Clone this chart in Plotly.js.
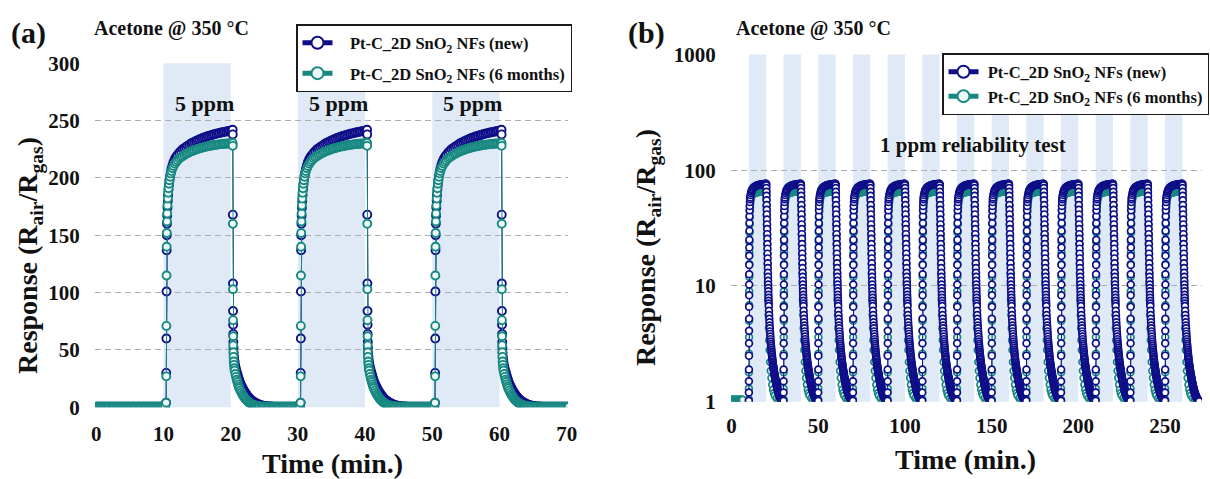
<!DOCTYPE html>
<html>
<head>
<meta charset="utf-8">
<script src="https://cdn.plot.ly/plotly-3.0.1.min.js"></script>
<style>
  html, body { margin: 0; padding: 0; background: #ffffff; }
  #chart { width: 1210px; height: 479px; }
</style>
</head>
<body>
<div id="chart"></div>
<script>
// ---------------- Panel (a): 5 ppm acetone, 3 cycles ----------------
const leftGasOn  = [10, 30, 50];
const leftGasOff = [20, 40, 60];
const leftXTicks = [0, 10, 20, 30, 40, 50, 60, 70];
const leftYTicks = [0, 50, 100, 150, 200, 250, 300];

// baseline before first exposure (min, response)
const leftBaseT    = [0,0.25,0.5,0.75,1,1.25,1.5,1.75,2,2.25,2.5,2.75,3,3.25,3.5,3.75,4,4.25,4.5,4.75,5,5.25,5.5,5.75,6,6.25,6.5,6.75,7,7.25,7.5,7.75,8,8.25,8.5,8.75,9,9.25,9.5,9.75,10,10.25];
const leftBaseNew  = [0.5,0.5,0.5,0.5,0.5,0.5,0.5,0.5,0.5,0.5,0.5,0.5,0.5,0.5,0.5,0.5,0.5,0.5,0.5,0.5,0.5,0.5,0.5,0.5,0.5,0.5,0.5,0.5,0.5,0.5,0.5,0.5,0.5,0.5,0.5,0.5,0.5,0.5,0.5,0.5,0.5,0.5];
const leftBaseAged = [0.5,0.5,0.5,0.5,0.5,0.5,0.5,0.5,0.5,0.5,0.5,0.5,0.5,0.5,0.5,0.5,0.5,0.5,0.5,0.5,0.5,0.5,0.5,0.5,0.5,0.5,0.5,0.5,0.5,0.5,0.5,0.5,0.5,0.5,0.5,0.5,0.5,0.5,0.5,0.5,0.5,0.5];

// response after gas-on (time measured from gas-on)
const leftRiseT = [0.40,0.42,0.44,0.46,0.48,0.50,0.53,0.56,0.60,0.65,0.70,0.76,0.83,0.90,1.0,1.1,1.2,1.35,1.5,1.7,1.9,2.1,2.35,2.6,2.85,3.1,3.35,3.6,3.85,4.1,4.35,4.6,4.85,5.1,5.35,5.6,5.85,6.1,6.35,6.6,6.85,7.1,7.35,7.6,7.85,8.1,8.35,8.6,8.85,9.1,9.35,9.6,9.85,10.1,10.3];
const leftRiseNew = [4,30,60,101,137,150,160,167,174,180,185,190,194,198,202,205,208,211,214,216.5,218.5,220,222,223.5,225,226,227,228,229,230,230.8,231.5,232.2,233,233.6,234.2,234.8,235.4,235.9,236.4,236.9,237.3,237.7,238.1,238.5,238.9,239.3,239.6,239.9,240.2,240.5,240.8,241.1,241.4,242];
const leftRiseAged = [4,27,71,115,140,152,162,169,176,182,187,191,195,198,201,204,206,208.5,210.5,212.5,214,215.5,217,218,219,220,221,221.5,222.5,223,223.7,224.2,224.8,225.3,225.8,226.2,226.6,227,227.3,227.6,227.9,228.2,228.5,228.7,228.9,229.1,229.3,229.5,229.7,229.8,229.9,230,230.1,230.2,230.5];

// recovery after gas-off (time measured from gas-off)
const leftDecayT = [0.315,0.33,0.345,0.36,0.375,0.39,0.41,0.43,0.46,0.5,0.55,0.6,0.7,0.8,0.9,1.0,1.1,1.2,1.3,1.45,1.6,1.75,1.9,2.05,2.2,2.35,2.5,2.65,2.8,2.95,3.1,3.3,3.5,3.7,3.9,4.1,4.3,4.55,4.8,5.05,5.3,5.55,5.8,6.05,6.3,6.55,6.8,7.05,7.3,7.55,7.8,8.05,8.3,8.55,8.8,9.05,9.3,9.55,9.8,10.05,10.3];
const leftDecayNew = [238,168,108,84,72,64,57,52,47.5,44,41,39,36,33.5,31,29,27,25,23.3,21,19,17.2,15.5,14,12.6,11.3,10.1,9,8,7.1,6.3,5.4,4.6,3.9,3.3,2.8,2.3,1.9,1.5,1.2,1.0,0.85,0.75,0.65,0.6,0.55,0.5,0.5,0.5,0.5,0.5,0.5,0.5,0.5,0.5,0.5,0.5,0.5,0.5,0.5,0.5];
const leftDecayAged = [228,160,103,76,62,54,48,44,40,37,34,32,29,26.5,24,22,20,18.2,16.6,14.6,12.8,11.2,9.8,8.5,7.3,6.3,5.4,4.6,3.9,3.3,2.8,2.3,1.9,1.55,1.25,1.0,0.85,0.7,0.6,0.55,0.5,0.5,0.5,0.5,0.5,0.5,0.5,0.5,0.5,0.5,0.5,0.5,0.5,0.5,0.5,0.5,0.5,0.5,0.5,0.5,0.5];

// ---------------- Panel (b): 1 ppm reliability, 13 cycles ----------------
const rightGasOn  = [10,30,50,70,90,110,130,150,170,190,210,230,250];
const rightGasOff = [20,40,60,80,100,120,140,160,180,200,220,240,260];
const rightXTicks = [0, 50, 100, 150, 200, 250];
const rightYTicks = [1, 10, 100, 1000];

const rightBaseT    = [0,0.5,1,1.5,2,2.5,3,3.5,4,4.5,5,5.5,6,6.5];
const rightBaseAged = [1.04,1.04,1.04,1.04,1.04,1.04,1.04,1.04,1.04,1.04,1.04,1.04,1.04,1.04];

const rightRiseTNew = [0,0.02,0.04,0.06,0.08,0.10,0.12,0.14,0.16,0.18,0.20,0.22,0.24,0.26,0.28,0.30,0.33,0.36,0.40,0.45,0.50,0.6,0.7,0.8,1.0,1.25,1.5,1.75,2.0,2.5,3.0,3.5,4.0,4.5,5.0,5.5,6.0,6.5,7.0,7.5,8.0,8.5,9.0,9.5,9.9];
const rightRiseNew  = [1.02,1.2,1.5,1.9,2.5,3.2,4.1,5.2,6.6,8.3,10.3,12.6,15.2,18.2,21.5,25,30,35,40,45,49,53,56,58,61,63.5,65.5,67,68.5,70.3,71.5,72.3,73,73.6,74,74.4,74.8,75.1,75.3,75.5,75.7,75.9,76,76.2,76.3];
const rightRiseTAged = [0,0.03,0.06,0.09,0.12,0.15,0.18,0.21,0.24,0.27,0.30,0.34,0.38,0.43,0.5,0.6,0.7,0.85,1.0,1.3,1.6,2.0,2.5,3.0,3.5,4.0,4.5,5.0,5.5,6.0,6.5,7.0,7.5,8.0,8.5,9.0,9.5,9.9];
const rightRiseAged  = [1.05,1.3,1.8,2.6,3.6,5,6.8,9,12,15.5,19.5,24,29,34,39,44,48,52,55,58,60,61.5,62.5,63.2,63.6,64,64.3,64.6,64.8,65,65.2,65.4,65.6,65.7,65.8,65.9,66,66];

const rightDecayTNew = [0,0.05,0.1,0.15,0.2,0.25,0.3,0.35,0.4,0.45,0.5,0.55,0.6,0.65,0.7,0.75,0.8,0.85,0.9,0.95,1.0,1.05,1.1,1.15,1.2,1.25,1.3,1.35,1.4,1.45,1.5,
  1.6,1.7,1.8,1.9,2.0,2.1,2.2,2.3,2.4,2.5,2.6,2.7,2.8,2.9,3.0,
  3.1,3.2,3.3,3.4,3.5,3.6,3.7,3.8,3.9,4.0,
  4.1,4.2,4.3,4.4,4.5,4.6,4.7,4.8,4.9,5.0,
  5.1,5.2,5.3,5.4,5.5,5.6,5.7,5.8,5.9,6.0,
  6.1,6.2,6.3,6.4,6.5,6.6,6.7,6.8,6.9,7.0,
  7.1,7.2,7.3,7.4,7.5,7.6,7.7,7.8,7.9,8.0,
  8.1,8.2,8.3,8.4,8.5,8.6,8.7,8.8,8.9,9.0,
  9.1,9.2,9.3,9.4,9.5,9.6,9.7];
const rightDecayNew = [76,74,70,65,60,55,50,45.5,41.5,37.5,34,31,28,25.5,23,21,19,17.3,15.7,14.3,13,12,11.1,10.3,9.6,9,8.4,7.9,7.45,7.05,6.7,
  6.1,5.6,5.2,4.85,4.55,4.3,4.05,3.85,3.65,3.47,3.31,3.17,3.04,2.92,2.81,
  2.71,2.62,2.53,2.45,2.37,2.30,2.23,2.17,2.11,2.06,
  2.01,1.96,1.92,1.88,1.84,1.80,1.76,1.73,1.69,1.66,
  1.63,1.60,1.57,1.54,1.51,1.49,1.46,1.44,1.41,1.39,
  1.37,1.35,1.33,1.31,1.29,1.27,1.26,1.24,1.22,1.21,
  1.20,1.18,1.17,1.16,1.15,1.14,1.13,1.12,1.11,1.10,
  1.09,1.08,1.075,1.07,1.06,1.055,1.05,1.045,1.04,1.035,
  1.03,1.025,1.02,1.018,1.015,1.012,1.01];
const rightDecayTAged = [0,0.1,0.2,0.3,0.4,0.5,0.6,0.7,0.8,0.9,1.0,1.2,1.4,1.6,1.8,2.0,2.3,2.6,3.0,3.5,4.0,4.5,5.0,6.0,7.0,8.0,9.0,9.75];
const rightDecayAged  = [64,57,49,41,34,28,23,19,15.5,12.8,10.6,7.6,5.6,4.3,3.4,2.8,2.2,1.85,1.6,1.4,1.27,1.19,1.13,1.07,1.04,1.02,1.01,1.0];

// ---------------- helpers ----------------
function buildSeries(onTimes, offTimes, baseT, baseY, riseT, riseY, decT, decY) {
  const x = [], y = [];
  baseT.forEach((t, i) => { x.push(t); y.push(baseY[i]); });
  onTimes.forEach((on, k) => {
    riseT.forEach((r, i) => { x.push(on + r); y.push(riseY[i]); });
    decT.forEach((d, i) => { x.push(offTimes[k] + d); y.push(decY[i]); });
  });
  return { x, y };
}

const NAVY = '#0e0e88';
const TEAL = '#178880';
const SERIF = 'Liberation Serif, Times New Roman, serif';
const W = 1210, H = 479;
const px = v => v / W;
const py = v => 1 - v / H;

const lNew  = buildSeries(leftGasOn, leftGasOff, leftBaseT, leftBaseNew, leftRiseT, leftRiseNew, leftDecayT, leftDecayNew);
const lAged = buildSeries(leftGasOn, leftGasOff, leftBaseT, leftBaseAged, leftRiseT, leftRiseAged, leftDecayT, leftDecayAged);
const rNew  = buildSeries(rightGasOn, rightGasOff, [], [], rightRiseTNew, rightRiseNew, rightDecayTNew, rightDecayNew);
const rAged = buildSeries(rightGasOn, rightGasOff, rightBaseT, rightBaseAged, rightRiseTAged, rightRiseAged, rightDecayTAged, rightDecayAged);

const NB = '\u00a0';
const labelNew  = 'Pt-C_2D SnO<sub>2</sub> NFs (new)';
const labelAged = 'Pt-C_2D SnO<sub>2</sub> NFs (6 months)';

function trace(d, name, color, fill, xa, ya, leg, rank, size, lw, grp) {
  return {
    type: 'scatter', mode: 'lines+markers', x: d.x, y: d.y, name: name,
    xaxis: xa, yaxis: ya, legend: leg, legendrank: rank, legendgroup: grp,
    line: { color: color, width: 1 },
    marker: { symbol: 'circle', size: size, color: fill, line: { color: color, width: lw } },
    hoverinfo: 'skip'
  };
}

const data = [
  trace(lNew,  NB+NB+NB+labelNew,  NAVY, '#ffffff', 'x',  'y',  'legend',  1, 8, 1.9, 'a1'),
  trace(lAged, NB+NB+NB+labelAged, TEAL, '#eefafa', 'x',  'y',  'legend',  2, 8, 1.9, 'a2'),
  trace(rAged, NB+labelAged, TEAL, '#eefafa', 'x2', 'y2', 'legend2', 2, 6.8, 1.7, 'b2'),
  trace(rNew,  NB+labelNew,  NAVY, '#ffffff', 'x2', 'y2', 'legend2', 1, 6.8, 1.7, 'b1')
];

const BAND = 'rgb(223,234,246)';
const shapes = [];
leftGasOn.forEach((on, k) => shapes.push({
  type: 'rect', xref: 'x', yref: 'y domain', x0: on, x1: leftGasOff[k], y0: 0, y1: 1,
  fillcolor: BAND, line: { width: 0 }, layer: 'below'
}));
rightGasOn.forEach((on, k) => shapes.push({
  type: 'rect', xref: 'x2', yref: 'y2 domain', x0: on, x1: rightGasOff[k], y0: 0, y1: 1,
  fillcolor: BAND, line: { width: 0 }, layer: 'below'
}));

const tickFont = { family: SERIF, size: 21, color: '#111111', weight: 'bold' };
const gridCommon = { showgrid: true, gridcolor: '#aeaeae', gridwidth: 1, griddash: '6px,4px' };

const ann = [];
function txt(text, x, y, size, opts) {
  ann.push(Object.assign({
    text: text, xref: 'paper', yref: 'paper', x: px(x), y: py(y),
    xanchor: 'left', yanchor: 'middle', showarrow: false,
    font: { family: SERIF, size: size, color: '#111111', weight: 'bold' }
  }, opts || {}));
}
txt('(a)', 9, 33, 30);
txt('Acetone @ 350 °C', 92, 29, 20);
txt('(b)', 626, 33, 30);
txt('Acetone @ 350 °C', 734, 29, 20);
txt('1 ppm reliability test', 973, 145, 21, { xanchor: 'center' });
txt('Time (min.)', 332, 463, 28, { xanchor: 'center' });
txt('Time (min.)', 965, 459, 28, { xanchor: 'center' });
txt('Response (R<sub>air</sub>/R<sub>gas</sub>)', 30, 256, 28, { xanchor: 'center', textangle: -90 });
txt('Response (R<sub>air</sub>/R<sub>gas</sub>)', 648, 248, 28, { xanchor: 'center', textangle: -90 });
leftGasOn.forEach((on, k) => ann.push({
  text: '5 ppm', xref: 'x', yref: 'y', x: (on + leftGasOff[k]) / 2, y: 265,
  xshift: 7, xanchor: 'center', yanchor: 'middle', showarrow: false,
  font: { family: SERIF, size: 22, color: '#111111', weight: 'bold' }
}));

const legendCommon = {
  xanchor: 'left', yanchor: 'top', bgcolor: '#ffffff', bordercolor: '#1a1a1a', borderwidth: 1.5,
  font: { family: SERIF, size: 16.5, color: '#111111', weight: 'bold' },
  traceorder: 'grouped', itemclick: false, itemsizing: 'constant'
};

const layout = {
  width: W, height: H,
  margin: { l: 0, r: 0, t: 0, b: 0 },
  paper_bgcolor: '#ffffff', plot_bgcolor: 'rgba(0,0,0,0)',
  showlegend: true,
  xaxis: {
    domain: [px(95), px(568)], range: [-0.18, 70.19], tickvals: leftXTicks,
    showgrid: false, zeroline: false, showline: false,
    ticks: 'outside', ticklen: 7, tickcolor: 'rgba(0,0,0,0)', tickfont: tickFont
  },
  yaxis: Object.assign({
    domain: [py(407.3), py(63.3)], range: [0, 300], tickvals: leftYTicks,
    zeroline: false, showline: false,
    ticks: 'outside', ticklen: 10, tickcolor: 'rgba(0,0,0,0)', tickfont: tickFont
  }, gridCommon),
  xaxis2: {
    domain: [px(731), px(1202)], range: [-0.29, 271.3], tickvals: rightXTicks, anchor: 'y2',
    showgrid: false, zeroline: false, showline: false,
    ticks: 'outside', ticklen: 5, tickcolor: 'rgba(0,0,0,0)', tickfont: tickFont
  },
  yaxis2: Object.assign({
    type: 'log', domain: [py(401.7), py(54.4)], range: [0, 3], anchor: 'x2',
    tickvals: rightYTicks, ticktext: rightYTicks.map(String),
    zeroline: false, showline: false,
    ticks: 'outside', ticklen: 10, tickcolor: 'rgba(0,0,0,0)', tickfont: tickFont
  }, gridCommon),
  legend: Object.assign({ x: px(296), y: py(24), tracegroupgap: 6 }, legendCommon),
  legend2: Object.assign({ x: px(942), y: py(53), tracegroupgap: 0 }, legendCommon),
  shapes: shapes,
  annotations: ann
};

Plotly.newPlot('chart', data, layout, { staticPlot: true, displayModeBar: false });
</script>
</body>
</html>
